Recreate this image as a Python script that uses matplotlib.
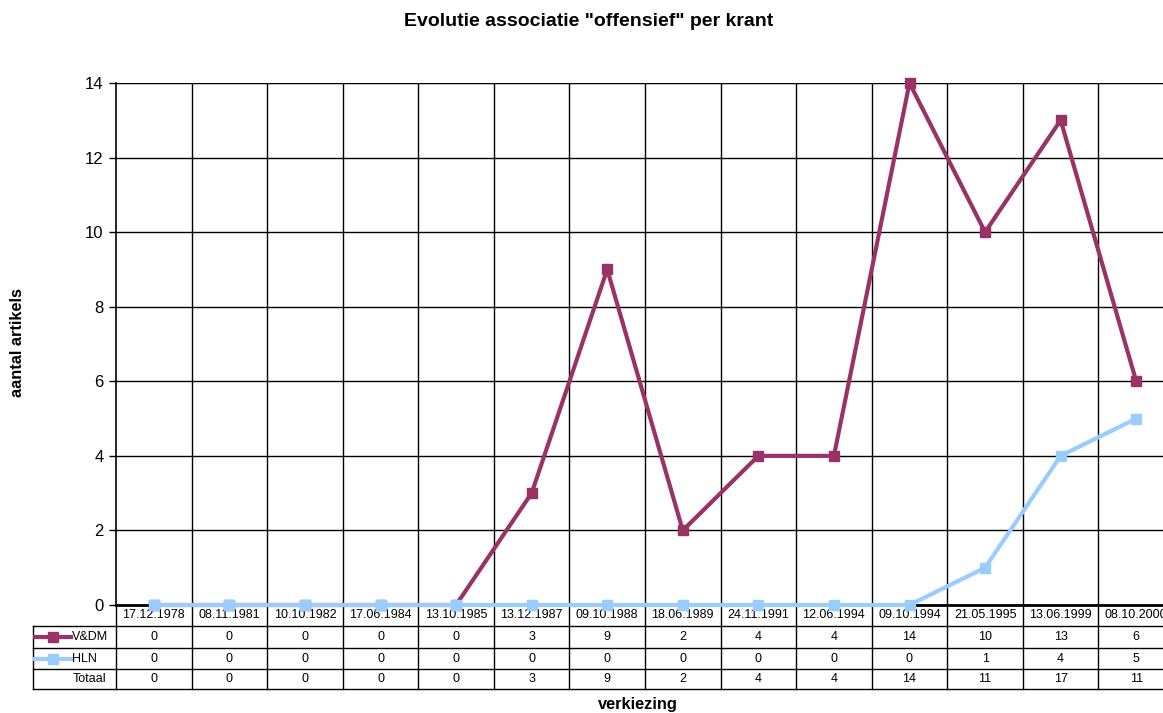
import numpy as np
import matplotlib
matplotlib.use('Agg')
import matplotlib.pyplot as plt
import matplotlib.transforms as mtransforms

plt.rcParams['font.family'] = ['Liberation Sans', 'DejaVu Sans']

dates = ['17.12.1978', '08.11.1981', '10.10.1982', '17.06.1984', '13.10.1985',
         '13.12.1987', '09.10.1988', '18.06.1989', '24.11.1991', '12.06.1994',
         '09.10.1994', '21.05.1995', '13.06.1999', '08.10.2000']
vdm = [0, 0, 0, 0, 0, 3, 9, 2, 4, 4, 14, 10, 13, 6]
hln = [0, 0, 0, 0, 0, 0, 0, 0, 0, 0, 0, 1, 4, 5]
totaal = [a + b for a, b in zip(vdm, hln)]

c_vdm = '#993366'
c_hln = '#99CCFF'

fig = plt.figure(figsize=(11.63, 7.13), dpi=100)
ax = fig.add_axes([116 / 1163, 1 - 605 / 713, 1058 / 1163, 522 / 713])

x = np.arange(len(dates))
ax.plot(x, vdm, color=c_vdm, lw=3, marker='s', ms=7.5, zorder=4, clip_on=False)
ax.plot(x, hln, color=c_hln, lw=3, marker='s', ms=7.5, zorder=4, clip_on=False)

ax.set_xlim(-0.5, len(dates) - 0.5)
ax.set_ylim(0, 14)
ax.set_yticks(range(0, 15, 2))
ax.tick_params(axis='y', labelsize=12, length=5, width=1, pad=4)
ax.set_xticks([])
ax.grid(axis='y', color='black', lw=1)
for b in np.arange(0.5, len(dates) - 0.5):
    ax.axvline(b, color='black', lw=1, zorder=1)
ax.axhline(14, color='black', lw=1.5)
for s in ['top', 'right']:
    ax.spines[s].set_visible(False)
ax.spines['left'].set_linewidth(1.2)
ax.spines['bottom'].set_linewidth(2)
ax.spines['bottom'].set_zorder(3)

# data table under the axis
tr = mtransforms.blended_transform_factory(ax.transData, ax.transAxes)
px = 1 / 522
rows = [0, -21 * px, -43 * px, -64 * px, -84 * px]
left = -0.5 - 83 / 75.57
kw = dict(transform=tr, clip_on=False, color='black', lw=1)

for i, d in enumerate(dates):
    ax.text(i, (rows[0] + rows[1]) / 2, d, transform=tr, ha='center', va='center', fontsize=9)
    ax.text(i, (rows[1] + rows[2]) / 2, str(vdm[i]), transform=tr, ha='center', va='center', fontsize=9)
    ax.text(i, (rows[2] + rows[3]) / 2, str(hln[i]), transform=tr, ha='center', va='center', fontsize=9)
    ax.text(i, (rows[3] + rows[4]) / 2, str(totaal[i]), transform=tr, ha='center', va='center', fontsize=9)
for b in np.arange(-0.5, len(dates) + 0.5):
    ax.plot([b, b], [0, rows[4]], **kw)
for r in rows[1:]:
    ax.plot([left, len(dates) + 0.5], [r, r], **kw)
ax.plot([left, left], [rows[1], rows[4]], **kw)

# legend keys inside the table
for (name, col, r0, r1) in [('V&DM', c_vdm, rows[1], rows[2]), ('HLN', c_hln, rows[2], rows[3])]:
    ym = (r0 + r1) / 2
    ax.plot([left + 0.03, left + 0.5], [ym, ym], color=col, lw=3, transform=tr, clip_on=False)
    ax.plot([left + 0.265], [ym], color=col, marker='s', ms=7.5, transform=tr, clip_on=False)
    ax.text(left + 0.52, ym, name, transform=tr, ha='left', va='center', fontsize=9)
ax.text(-0.5 - 10 / 75.57, (rows[3] + rows[4]) / 2, 'Totaal', transform=tr,
        ha='right', va='center', fontsize=9)

fig.text(589 / 1163, 1 - 22 / 713, 'Evolutie associatie "offensief" per krant',
         ha='center', va='center', fontsize=14, fontweight='bold')
fig.text(18 / 1163, 1 - 343 / 713, 'aantal artikels', rotation=90,
         ha='center', va='center', fontsize=11.8, fontweight='bold')
fig.text(638 / 1163, 1 - 705 / 713, 'verkiezing',
         ha='center', va='center', fontsize=11.8, fontweight='bold')

fig.savefig('out.png', dpi=100)
